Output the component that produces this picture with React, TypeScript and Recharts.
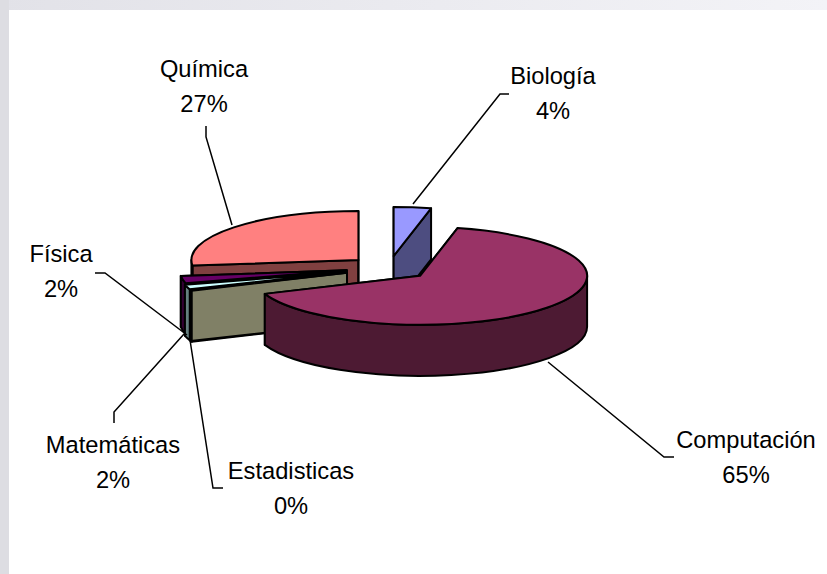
import { Pie, PieChart } from "recharts";

const subjects = ["Biología", "Computación", "Estadisticas", "Matemáticas", "Física", "Química"];
const shares = [3.6, 65.4, 0.3, 1.5, 2.4, 26.8];
const colors = ["#9999FF", "#993366", "#FFFFCC", "#CCFFFF", "#660066", "#FF8080"];
const explodes = [41, 41, 45, 45, 43, 41];

// painter's order, back slices first
const drawOrder = [5, 0, 4, 3, 2, 1];

// label centre + leader line for each subject
const labelSpots = [
  { x: 553, y: 78, leader: "509,94 500,94 413,204" },
  { x: 746, y: 442, leader: "674,457 664,457 548,362" },
  { x: 291, y: 473, leader: "223,488 213,488 190,340" },
  { x: 113, y: 447, leader: "114,423 114,412 184,334" },
  { x: 61, y: 256, leader: "95,273 105,273 187,335" },
  { x: 204, y: 71, leader: "206,126 206,137 232,225" },
];

const data = subjects.map((name, i) => ({ name, value: shares[i], fill: colors[i] }));

const WIDTH = 827;
const HEIGHT = 574;
const RX = 167;
const RY = 49;
const DEPTH = 51;
const LINE = "#000";

const rad = (deg: number) => (deg * Math.PI) / 180;

const darken = (hex: string) => {
  const n = parseInt(hex.slice(1), 16);
  const half = (v: number) => Math.round(v / 2).toString(16).padStart(2, "0");
  return `#${half((n >> 16) & 255)}${half((n >> 8) & 255)}${half(n & 255)}`;
};

// flattened 3D slice; angles converted to clockwise-from-top
const Slice3D = (props: any) => {
  const { cx, cy, startAngle, endAngle, fill, index } = props;
  const s = 90 - startAngle;
  const e = 90 - endAngle;
  const mid = (s + e) / 2;
  const ox = cx + explodes[index] * Math.sin(rad(mid));
  const oy = cy - (explodes[index] * RY * Math.cos(rad(mid))) / RX;
  const pt = (t: number, drop = 0) => ({
    x: ox + RX * Math.sin(rad(t)),
    y: oy - RY * Math.cos(rad(t)) + drop,
  });
  const arc = (to: { x: number; y: number }, a: number, b: number, sweep: number) =>
    `A${RX} ${RY} 0 ${Math.abs(b - a) > 180 ? 1 : 0} ${sweep} ${to.x} ${to.y}`;
  const wall = (t: number) => {
    const p = pt(t);
    const q = pt(t, DEPTH);
    return `M${ox} ${oy}L${p.x} ${p.y}L${q.x} ${q.y}L${ox} ${oy + DEPTH}Z`;
  };
  const side = darken(fill);
  const a = Math.max(s, 90);
  const b = Math.min(e, 270);
  const rim =
    a < b
      ? `M${pt(a).x} ${pt(a).y}${arc(pt(b), a, b, 1)}L${pt(b, DEPTH).x} ${pt(b, DEPTH).y}${arc(pt(a, DEPTH), a, b, 0)}Z`
      : null;
  const top = `M${ox} ${oy}L${pt(s).x} ${pt(s).y}${arc(pt(e), s, e, 1)}Z`;
  const common = { stroke: LINE, strokeWidth: 2, strokeLinejoin: "round" as const };
  return (
    <g>
      <path d={wall(s)} fill={side} {...common} />
      <path d={wall(e)} fill={side} {...common} />
      {rim && <path d={rim} fill={side} {...common} />}
      <path d={top} fill={fill} {...common} />
    </g>
  );
};

const renderLabel = (props: any) => {
  const spot = labelSpots[props.index];
  return (
    <g>
      <polyline points={spot.leader} fill="none" stroke={LINE} strokeWidth={1.5} />
      <text x={spot.x} y={spot.y} textAnchor="middle" dominantBaseline="middle" fontSize={23.7} fontFamily="Liberation Sans" fill="#000">
        {props.name}
      </text>
      <text x={spot.x} y={spot.y + 35} textAnchor="middle" dominantBaseline="middle" fontSize={23.7} fontFamily="Liberation Sans" fill="#000">
        {Math.round(props.value)}%
      </text>
    </g>
  );
};

export default function App() {
  return (
    <div style={{ position: "fixed", left: 0, top: 0, width: WIDTH, height: HEIGHT, background: "#fff", overflow: "hidden" }}>
      <div style={{ position: "absolute", left: 0, top: 0, width: WIDTH, height: 10, background: "linear-gradient(to right, #E2E2E8, #F3F3F7)" }} />
      <div style={{ position: "absolute", left: 0, top: 0, width: 9, height: HEIGHT, background: "#DDDDE2" }} />
      <div style={{ position: "absolute", left: 0, top: 0 }}>
        <PieChart width={WIDTH} height={HEIGHT} margin={{ top: 0, right: 0, bottom: 0, left: 0 }}>
          {drawOrder.map((layer, n) => (
            <Pie
              key={layer}
              data={data}
              dataKey="value"
              nameKey="name"
              cx={389}
              cy={268}
              outerRadius={RX}
              startAngle={90}
              endAngle={-270}
              isAnimationActive={false}
              labelLine={false}
              label={n === drawOrder.length - 1 ? renderLabel : false}
              shape={(p: any) => (p.index === layer ? <Slice3D {...p} /> : <g />)}
            />
          ))}
        </PieChart>
      </div>
    </div>
  );
}
